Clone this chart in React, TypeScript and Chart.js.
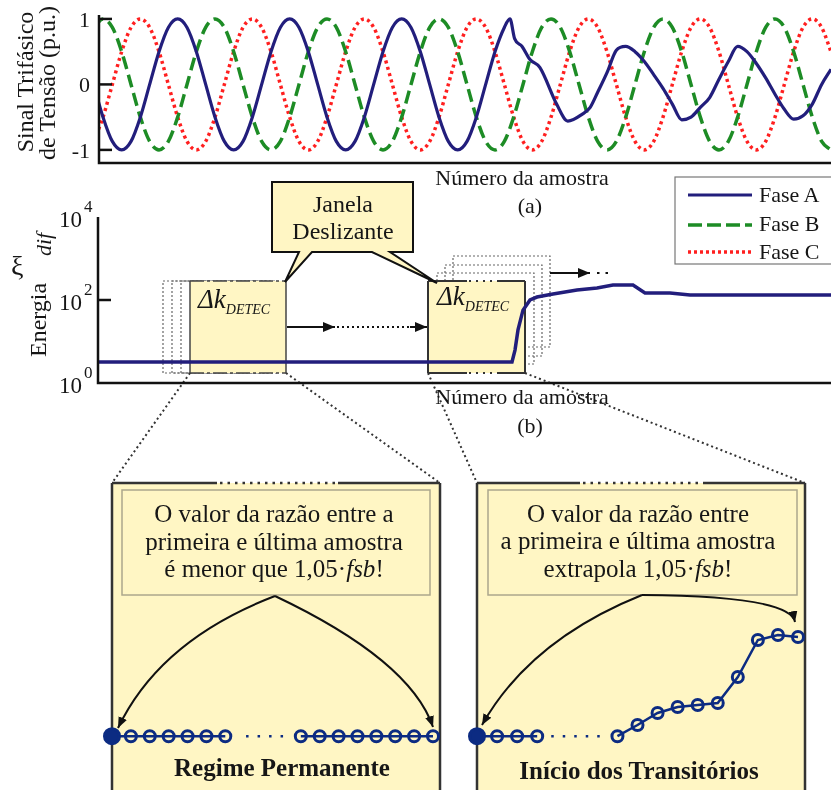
import React, { useEffect, useRef } from "react";
import { Chart, registerables } from "chart.js";

Chart.register(...registerables);

const W = 831;
const H = 790;
const SERIF = '"Liberation Serif", "Times New Roman", Times, serif';
const AZUL = "#221e7c";
const VERDE = "#1d8c25";
const VERMELHO = "#ff1f1f";
const MARINHO = "#0c2b82";
const AMARELO = "#fff6c4";
const TINTA = "#161616";

// ---------- (a) Sinal trifásico de tensão (p.u.) ----------
const amostras = Array.from({ length: 80 }, (_, i) => i - 1); // número da amostra (fases B e C)
const faseB = [
  0.87,
  1, 0.87, 0.5, 0, -0.5, -0.87, -1, -0.87, -0.5, 0, 0.5, 0.87,
  1, 0.87, 0.5, 0, -0.5, -0.87, -1, -0.87, -0.5, 0, 0.5, 0.87,
  1, 0.87, 0.5, 0, -0.5, -0.87, -1, -0.87, -0.5, 0, 0.5, 0.87,
  1, 0.87, 0.5, 0, -0.5, -0.87, -1, -0.87, -0.5, 0, 0.5, 0.87,
  1, 0.87, 0.5, 0, -0.5, -0.87, -1, -0.87, -0.5, 0, 0.5, 0.87,
  1, 0.87, 0.5, 0, -0.5, -0.87, -1, -0.87, -0.5, 0, 0.5, 0.87,
  1, 0.87, 0.5, 0, -0.5, -0.87, -1,
];
const faseC = [
  -0.87,
  -0.5, 0, 0.5, 0.87, 1, 0.87, 0.5, 0, -0.5, -0.87, -1, -0.87,
  -0.5, 0, 0.5, 0.87, 1, 0.87, 0.5, 0, -0.5, -0.87, -1, -0.87,
  -0.5, 0, 0.5, 0.87, 1, 0.87, 0.5, 0, -0.5, -0.87, -1, -0.87,
  -0.5, 0, 0.5, 0.87, 1, 0.87, 0.5, 0, -0.5, -0.87, -1, -0.87,
  -0.5, 0, 0.5, 0.87, 1, 0.87, 0.5, 0, -0.5, -0.87, -1, -0.87,
  -0.5, 0, 0.5, 0.87, 1, 0.87, 0.5, 0, -0.5, -0.87, -1, -0.87,
  -0.5, 0, 0.5, 0.87, 1, 0.87, 0.5,
];
const amostrasA = [
  -1, 0, 1, 2, 3, 4, 5, 6, 7, 8, 9, 10, 11, 12, 13, 14, 15, 16, 17, 18, 19, 20, 21,
  22, 23, 24, 25, 26, 27, 28, 29, 30, 31, 32, 33, 34, 35, 36, 37, 38, 39, 40, 41,
  42, 43, 43.6, 44.1, 44.9, 45.75, 46.8, 48.6, 49.8, 51.4, 52.2,
  53, 54, 55, 56, 57, 58, 59, 60, 61, 62, 63, 64, 65, 66, 67, 68, 69, 70, 71, 72,
  73, 74, 75, 76, 77, 78,
];
const faseA = [
  0,
  -0.5, -0.87, -1, -0.87, -0.5, 0, 0.5, 0.87, 1, 0.87, 0.5, 0,
  -0.5, -0.87, -1, -0.87, -0.5, 0, 0.5, 0.87, 1, 0.87, 0.5, 0,
  -0.5, -0.87, -1, -0.87, -0.5, 0, 0.5, 0.87, 1, 0.87, 0.5, 0,
  -0.5, -0.87, -1, -0.87, -0.5, 0, 0.5, 0.87,
  1.0, 0.7, 0.58, 0.38, 0.26, -0.3, -0.56, -0.45, -0.35,
  -0.12, 0.18, 0.52, 0.58, 0.5, 0.35, 0.15, -0.06, -0.3, -0.54, -0.5, -0.35, -0.2,
  0.08, 0.35, 0.58, 0.5, 0.32, 0.1, -0.15, -0.38, -0.53, -0.48, -0.3, 0, 0.23,
];
const ticksA = [-1, 0, 1];

// ---------- (b) Energia ξdif ----------
const amostrasEnergia = [0, 414, 417, 420, 425, 432, 439, 455, 479, 499, 515, 535, 547, 572, 592, 733];
const energiaDif = [3.2, 3.2, 6.2, 19, 57, 100, 118, 139, 174, 195, 229, 229, 148, 148, 132, 132];
const ticksB = [1, 100, 10000];
const expoentesB = ["0", "2", "4"];

// ---------- Janelas ampliadas ----------
const kPermA = [0, 1, 2, 3, 4, 5, 6];
const ePermA = [1.7, 1.7, 1.7, 1.7, 1.7, 1.7, 1.7];
const kPermGap = [7.1, 9.4];
const ePermGap = [1.7, 1.7];
const kPermB = [10, 11, 12, 13, 14, 15, 16, 17];
const ePermB = [1.7, 1.7, 1.7, 1.7, 1.7, 1.7, 1.7, 1.7];

const kTransA = [0, 1, 2, 3];
const eTransA = [1.7, 1.7, 1.7, 1.7];
const kTransGap = [3.7, 6.3];
const eTransGap = [1.7, 1.7];
const kTransB = [7, 8, 9, 10, 11, 12, 13, 14, 15, 16];
const eTransB = [1.7, 2.5, 3.36, 3.79, 3.93, 4.07, 5.93, 8.57, 8.93, 8.79];

const pts = (xs: number[], ys: number[]) => xs.map((x, i) => ({ x, y: ys[i] }));

const baseOptions = (padding: any, scales: any) => ({
  responsive: false,
  animation: false,
  events: [],
  layout: { padding },
  plugins: { legend: { display: false }, tooltip: { enabled: false }, title: { display: false } },
  scales,
});

const eixosA = {
  id: "eixosA",
  afterDraw(chart: any) {
    const { ctx, chartArea: ca } = chart;
    const y = chart.scales.y;
    ctx.save();
    ctx.strokeStyle = "#111";
    ctx.lineWidth = 2.5;
    ctx.beginPath();
    ctx.moveTo(ca.left, ca.top);
    ctx.lineTo(ca.left, ca.bottom);
    ctx.lineTo(ca.right, ca.bottom);
    ctx.stroke();
    ctx.fillStyle = TINTA;
    ctx.font = `22px ${SERIF}`;
    ctx.textAlign = "right";
    ctx.textBaseline = "alphabetic";
    ticksA.forEach((v) => {
      const py = y.getPixelForValue(v);
      ctx.beginPath();
      ctx.moveTo(ca.left, py);
      ctx.lineTo(ca.left + 13, py);
      ctx.stroke();
      ctx.fillText(String(v), ca.left - 9, py + 8);
    });
    ctx.restore();
  },
};

const eixosB = {
  id: "eixosB",
  afterDraw(chart: any) {
    const { ctx, chartArea: ca } = chart;
    const y = chart.scales.y;
    ctx.save();
    ctx.strokeStyle = "#111";
    ctx.lineWidth = 2.5;
    ctx.beginPath();
    ctx.moveTo(ca.left, ca.top);
    ctx.lineTo(ca.left, ca.bottom);
    ctx.lineTo(ca.right, ca.bottom);
    ctx.stroke();
    ctx.fillStyle = TINTA;
    ticksB.forEach((v, i) => {
      const py = y.getPixelForValue(v);
      if (i > 0 && i < ticksB.length - 1) {
        ctx.beginPath();
        ctx.moveTo(ca.left, py);
        ctx.lineTo(ca.left + 13, py);
        ctx.stroke();
      }
      ctx.font = `23px ${SERIF}`;
      ctx.textAlign = "right";
      ctx.fillText("10", ca.left - 16, py + 10);
      ctx.font = `17px ${SERIF}`;
      ctx.textAlign = "left";
      ctx.fillText(expoentesB[i], ca.left - 14, py - 5);
    });
    ctx.restore();
  },
};

const marcadores = (xs: number[], ys: number[], primeiroCheio: boolean) => ({
  data: pts(xs, ys),
  borderColor: MARINHO,
  borderWidth: 2.5,
  pointStyle: "circle",
  pointRadius: (c: any) => (primeiroCheio && c.dataIndex === 0 ? 7.5 : 5.5),
  pointBorderWidth: 3,
  pointBorderColor: MARINHO,
  pointBackgroundColor: (c: any) => (primeiroCheio && c.dataIndex === 0 ? MARINHO : "rgba(0,0,0,0)"),
  clip: false,
  tension: 0,
});
const pontilhado = (xs: number[], ys: number[]) => ({
  data: pts(xs, ys),
  borderColor: MARINHO,
  borderWidth: 2.5,
  borderDash: [2.5, 9],
  pointRadius: 0,
  clip: false,
});

export default function App() {
  const refA = useRef<HTMLCanvasElement>(null);
  const refB = useRef<HTMLCanvasElement>(null);
  const refC = useRef<HTMLCanvasElement>(null);
  const refD = useRef<HTMLCanvasElement>(null);

  useEffect(() => {
    const charts: any[] = [];
    charts.push(
      new Chart(refA.current as any, {
        type: "line",
        data: {
          datasets: [
            { label: "Fase A", data: pts(amostrasA, faseA), borderColor: AZUL, borderWidth: 3.2, pointRadius: 0, cubicInterpolationMode: "monotone" },
            { label: "Fase B", data: pts(amostras, faseB), borderColor: VERDE, borderWidth: 3.5, borderDash: [13, 6], pointRadius: 0, cubicInterpolationMode: "monotone" },
            { label: "Fase C", data: pts(amostras, faseC), borderColor: VERMELHO, borderWidth: 3.5, borderDash: [3, 3.5], pointRadius: 0, cubicInterpolationMode: "monotone" },
          ],
        } as any,
        options: baseOptions({ left: 99, top: 15, right: 0, bottom: H - 163 }, {
          x: { type: "linear", min: -0.43, max: 78, display: false },
          y: { type: "linear", min: -1.2, max: 1.06, display: false },
        }) as any,
        plugins: [eixosA],
      })
    );
    charts.push(
      new Chart(refB.current as any, {
        type: "line",
        data: {
          datasets: [
            { label: "Energia", data: pts(amostrasEnergia, energiaDif), borderColor: AZUL, borderWidth: 3.5, pointRadius: 0, tension: 0 },
          ],
        } as any,
        options: baseOptions({ left: 98, top: 217, right: 0, bottom: H - 383 }, {
          x: { type: "linear", min: 0, max: 733, display: false },
          y: { type: "logarithmic", min: 1, max: 10000, display: false },
        }) as any,
        plugins: [eixosB],
      })
    );
    charts.push(
      new Chart(refC.current as any, {
        type: "line",
        data: { datasets: [marcadores(kPermA, ePermA, true), pontilhado(kPermGap, ePermGap), marcadores(kPermB, ePermB, false)] } as any,
        options: baseOptions({ left: 112, top: 620, right: W - 433, bottom: H - 760 }, {
          x: { type: "linear", min: 0, max: 17, display: false },
          y: { type: "linear", min: 0, max: 10, display: false },
        }) as any,
      })
    );
    charts.push(
      new Chart(refD.current as any, {
        type: "line",
        data: { datasets: [marcadores(kTransA, eTransA, true), pontilhado(kTransGap, eTransGap), marcadores(kTransB, eTransB, false)] } as any,
        options: baseOptions({ left: 477, top: 620, right: W - 798, bottom: H - 760 }, {
          x: { type: "linear", min: 0, max: 16, display: false },
          y: { type: "linear", min: 0, max: 10, display: false },
        }) as any,
      })
    );
    return () => charts.forEach((c) => c.destroy());
  }, []);

  const abs: any = { position: "absolute", left: 0, top: 0 };
  const borda = "#333";

  return (
    <div style={{ position: "absolute", left: 0, top: 0, width: W, height: H, overflow: "hidden", background: "#fff" }}>
      {/* camada de fundo */}
      <svg width={W} height={H} style={abs}>
        {[163, 172, 181].map((x) => (
          <rect key={x} x={x} y={281} width={96} height={92} fill="none" stroke="#666" strokeWidth={1.2} strokeDasharray="2 2" />
        ))}
        <rect x={190} y={281} width={96} height={92} fill={AMARELO} />
        <line x1={190} y1={281} x2={190} y2={373} stroke="#444" strokeWidth={1.5} />
        <line x1={286} y1={281} x2={286} y2={373} stroke="#444" strokeWidth={1.5} />
        <line x1={190} y1={281} x2={286} y2={281} stroke="#444" strokeWidth={1.5} strokeDasharray="14 3 3 3" />
        <line x1={190} y1={373} x2={286} y2={373} stroke="#444" strokeWidth={1.5} strokeDasharray="14 3 3 3" />

        {[
          [453, 256],
          [445, 265],
          [437, 273],
        ].map(([x, y]) => (
          <rect key={x} x={x} y={y} width={97} height={91} fill="none" stroke="#666" strokeWidth={1.2} strokeDasharray="2 2" />
        ))}
        <rect x={428} y={281} width={97} height={92} fill={AMARELO} />
        <line x1={428} y1={281} x2={428} y2={373} stroke={borda} strokeWidth={2} />
        <line x1={525} y1={281} x2={525} y2={373} stroke={borda} strokeWidth={2} />
        {[281, 373].map((y) => (
          <g key={y}>
            <line x1={428} y1={y} x2={467} y2={y} stroke={borda} strokeWidth={2} />
            <line x1={469} y1={y} x2={496} y2={y} stroke={borda} strokeWidth={2} strokeDasharray="2 5" />
            <line x1={497} y1={y} x2={525} y2={y} stroke={borda} strokeWidth={2} />
          </g>
        ))}

        {/* ligações pontilhadas */}
        <g stroke="#333" strokeWidth={2} strokeDasharray="2 3">
          <line x1={190} y1={373} x2={112} y2={483} />
          <line x1={286} y1={373} x2={440} y2={483} />
          <line x1={428} y1={373} x2={477} y2={483} />
          <line x1={525} y1={373} x2={805} y2={483} />
        </g>

        {/* painéis ampliados */}
        <rect x={112} y={483} width={328} height={330} fill={AMARELO} />
        <rect x={477} y={483} width={328} height={330} fill={AMARELO} />
        <g stroke={borda} strokeWidth={2.5}>
          <line x1={112} y1={483} x2={112} y2={800} />
          <line x1={440} y1={483} x2={440} y2={800} />
          <line x1={112} y1={483} x2={217} y2={483} />
          <line x1={338} y1={483} x2={440} y2={483} />
          <line x1={220} y1={483} x2={336} y2={483} strokeDasharray="2.5 5" />
          <line x1={477} y1={483} x2={477} y2={800} />
          <line x1={805} y1={483} x2={805} y2={800} />
          <line x1={477} y1={483} x2={580} y2={483} />
          <line x1={703} y1={483} x2={805} y2={483} />
          <line x1={583} y1={483} x2={701} y2={483} strokeDasharray="2.5 5" />
        </g>
        <rect x={122} y={490} width={308} height={105} fill="none" stroke="#aca78c" strokeWidth={1.5} />
        <rect x={488} y={490} width={309} height={105} fill="none" stroke="#aca78c" strokeWidth={1.5} />
      </svg>

      <canvas ref={refC} width={W} height={H} style={abs} />
      <canvas ref={refD} width={W} height={H} style={abs} />
      <canvas ref={refB} width={W} height={H} style={abs} />
      <canvas ref={refA} width={W} height={H} style={abs} />

      {/* camada de frente */}
      <svg width={W} height={H} style={abs} fontFamily={SERIF} fill={TINTA}>
        <defs>
          <marker id="seta" viewBox="0 0 12 10" refX="12" refY="5" markerWidth="12" markerHeight="10" markerUnits="userSpaceOnUse" orient="auto">
            <path d="M0,0 L12,5 L0,10 Z" fill="#111" />
          </marker>
          <marker id="setaP" viewBox="0 0 11 9" refX="11" refY="4.5" markerWidth="11" markerHeight="9" markerUnits="userSpaceOnUse" orient="auto">
            <path d="M0,0 L11,4.5 L0,9 Z" fill="#111" />
          </marker>
        </defs>

        {/* títulos dos eixos */}
        <text transform="translate(33,82) rotate(-90)" textAnchor="middle" fontSize={24}>Sinal Trifásico</text>
        <text transform="translate(55,83) rotate(-90)" textAnchor="middle" fontSize={24}>de Tensão (p.u.)</text>
        <text transform="translate(46,357) rotate(-90)" fontSize={24}>Energia</text>
        <text x={11} y={275} fontSize={28}>ξ</text>
        <text transform="translate(51,256) rotate(-90)" fontSize={22} fontStyle="italic">dif</text>

        <text x={522} y={185} textAnchor="middle" fontSize={22}>Número da amostra</text>
        <text x={530} y={213} textAnchor="middle" fontSize={22}>(a)</text>
        <text x={522} y={404} textAnchor="middle" fontSize={22}>Número da amostra</text>
        <text x={530} y={433} textAnchor="middle" fontSize={22}>(b)</text>

        {/* legenda */}
        <rect x={675} y={177} width={170} height={87} fill="#fff" stroke="#777" strokeWidth={1.2} />
        <line x1={688} y1={195} x2={752} y2={195} stroke={AZUL} strokeWidth={3} />
        <line x1={688} y1={225} x2={752} y2={225} stroke={VERDE} strokeWidth={3.5} strokeDasharray="14 5" />
        <line x1={688} y1={252} x2={752} y2={252} stroke={VERMELHO} strokeWidth={3.5} strokeDasharray="3 3" />
        <text x={759} y={202} fontSize={22}>Fase A</text>
        <text x={759} y={231} fontSize={22}>Fase B</text>
        <text x={759} y={259} fontSize={22}>Fase C</text>

        {/* balão */}
        <path d="M272,182 H413 V252 H390 L437,283 L372,252 H312 L285,282 L299,252 H272 Z" fill={AMARELO} stroke="#111" strokeWidth={2} strokeLinejoin="miter" />
        <text x={343} y={212} textAnchor="middle" fontSize={24}>Janela</text>
        <text x={343} y={239} textAnchor="middle" fontSize={24}>Deslizante</text>

        <text x={198} y={308} fontSize={27} fontStyle="italic">Δk<tspan fontSize={14} dy={6}>DETEC</tspan></text>
        <text x={437} y={305} fontSize={27} fontStyle="italic">Δk<tspan fontSize={14} dy={6}>DETEC</tspan></text>

        {/* setas da janela */}
        <g stroke="#111" strokeWidth={2} fill="none">
          <line x1={287} y1={327} x2={335} y2={327} markerEnd="url(#seta)" />
          <line x1={337} y1={327} x2={410} y2={327} strokeDasharray="2 3" />
          <line x1={410} y1={327} x2={427} y2={327} markerEnd="url(#seta)" />
          <line x1={550} y1={273} x2={590} y2={273} markerEnd="url(#seta)" />
          <line x1={597} y1={273} x2={612} y2={273} strokeDasharray="2.5 6" />
        </g>

        {/* painel: regime permanente */}
        <text x={274} y={522} textAnchor="middle" fontSize={25}>O valor da razão entre a</text>
        <text x={274} y={550} textAnchor="middle" fontSize={25}>primeira e última amostra</text>
        <text x={274} y={577} textAnchor="middle" fontSize={25}>
          é menor que 1,05·<tspan fontStyle="italic">fsb</tspan>!
        </text>
        <text x={282} y={776} textAnchor="middle" fontSize={25} fontWeight="bold">Regime Permanente</text>

        {/* painel: início dos transitórios */}
        <text x={638} y={522} textAnchor="middle" fontSize={25}>O valor da razão entre</text>
        <text x={638} y={549} textAnchor="middle" fontSize={25}>a primeira e última amostra</text>
        <text x={638} y={577} textAnchor="middle" fontSize={25}>
          extrapola 1,05·<tspan fontStyle="italic">fsb</tspan>!
        </text>
        <text x={639} y={779} textAnchor="middle" fontSize={25} fontWeight="bold">Início dos Transitórios</text>

        <g stroke="#111" strokeWidth={2} fill="none">
          <path d="M275,596 Q160,640 118,728" markerEnd="url(#setaP)" />
          <path d="M275,596 Q410,660 433,727" markerEnd="url(#setaP)" />
          <path d="M642,595 Q530,640 482,725" markerEnd="url(#setaP)" />
          <path d="M642,595 Q790,596 795,622" markerEnd="url(#setaP)" />
        </g>
      </svg>
    </div>
  );
}
